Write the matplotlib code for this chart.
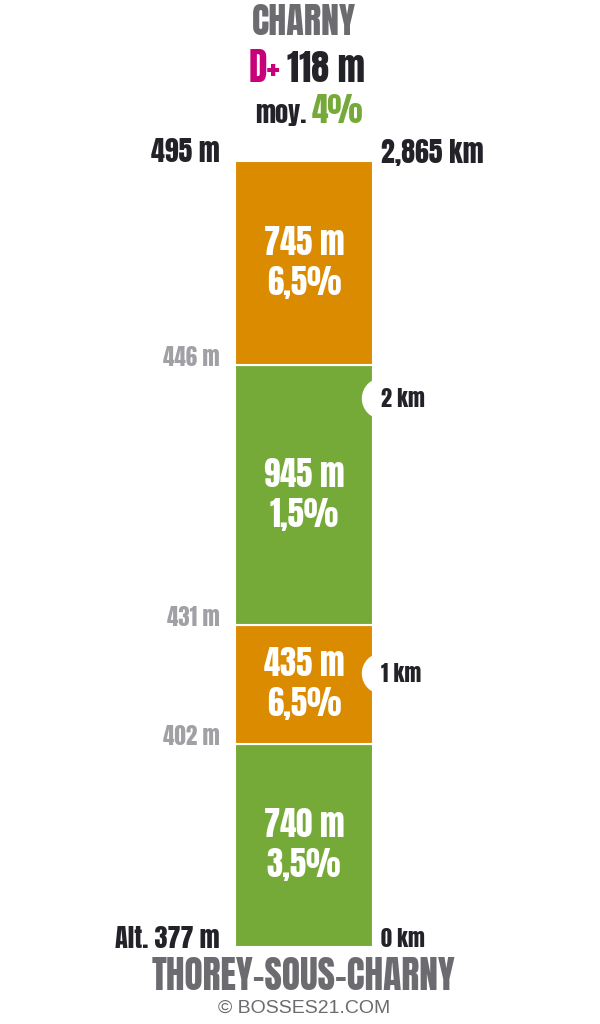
import matplotlib
matplotlib.use("Agg")
import matplotlib.pyplot as plt
import numpy as np

# segments from the bottom (start) to the top (finish)
distances = [740, 435, 945, 745]          # metres
grades = [3.5, 6.5, 1.5, 6.5]             # percent
altitudes = [377, 402, 431, 446, 495]     # m at each boundary
km_marks = [1, 2]
start_name = "THOREY-SOUS-CHARNY"
end_name = "CHARNY"
gain = 118
mean_grade = 4

ORANGE = "#db8b00"
GREEN = "#76aa38"
DARK = "#222228"
GREY = "#6b6b70"
LGREY = "#a0a0a5"
MAGENTA = "#c8007a"

plt.rcParams['font.family'] = ['Anton', 'Oswald', 'DejaVu Sans']

W, H = 600, 1024
fig = plt.figure(figsize=(W / 100, H / 100), dpi=100)


def fx(x):
    return x / W


def fy(y):
    return 1 - y / H


# bar area in pixels: x 235-373, y 161-947
ax = fig.add_axes([fx(235), fy(947), fx(373 - 235), (947 - 161) / H])
total = sum(distances)
bottoms = np.concatenate([[0], np.cumsum(distances)[:-1]])
colors = [ORANGE if g >= 5 else GREEN for g in grades]
ax.bar(0.5, distances, bottom=bottoms, width=1, color=colors,
       edgecolor="white", linewidth=1.5)
ax.set_xlim(0, 1)
ax.set_ylim(0, total)
ax.axis("off")

pt = 72 / 100  # points per pixel

# segment labels
for b, d, g in zip(bottoms, distances, grades):
    mid = b + d / 2
    ax.annotate(f"{d} m", (0.5, mid), xytext=(0, 8.5 * pt), textcoords="offset points",
                ha="center", va="baseline", color="white", fontsize=23.5)
    ax.annotate(f"{g:.1f}%".replace(".", ","), (0.5, mid), xytext=(0, -31.5 * pt),
                textcoords="offset points", ha="center", va="baseline",
                color="white", fontsize=23.5)

# altitude labels on the left
bounds = np.concatenate([[0], np.cumsum(distances)])
for i, (yb, alt) in enumerate(zip(bounds, altitudes)):
    if i == 0:
        txt, col, fs = f"Alt. {alt} m", DARK, 19
    elif i == len(altitudes) - 1:
        txt, col, fs = f"{alt} m", DARK, 20
    else:
        txt, col, fs = f"{alt} m", LGREY, 16.5
    ax.annotate(txt, (0, yb), xycoords=("axes fraction", "data"),
                xytext=(-15 * pt, -1 * pt), textcoords="offset points",
                ha="right", va="baseline", color=col, fontsize=fs, annotation_clip=False)

# km labels on the right
ax.annotate("0 km", (1, 0), xycoords=("axes fraction", "data"),
            xytext=(8 * pt, 0), textcoords="offset points",
            ha="left", va="baseline", color=DARK, fontsize=16, annotation_clip=False)
ax.annotate(f"{total / 1000:.3f} km".replace(".", ","), (1, total),
            xycoords=("axes fraction", "data"),
            xytext=(8 * pt, -2 * pt), textcoords="offset points",
            ha="left", va="baseline", color=DARK, fontsize=20, annotation_clip=False)
for k in km_marks:
    ax.plot([1 + 9 / 138], [k * 1000], "o", ms=40 * pt, color="white",
            mec="white", clip_on=False, zorder=2.5)
    ax.annotate(f"{k} km", (1, k * 1000), xycoords=("axes fraction", "data"),
                xytext=(8 * pt, -9 * pt), textcoords="offset points",
                ha="left", va="baseline", color=DARK, fontsize=16,
                annotation_clip=False, zorder=4)

# header
fig.text(fx(304), fy(35), end_name, ha="center", va="baseline", color=GREY, fontsize=26)
fig.text(fx(280), fy(82), "D+", ha="right", va="baseline", color=MAGENTA, fontsize=27)
fig.text(fx(287), fy(82), f"{gain} m", ha="left", va="baseline", color=DARK, fontsize=26)
fig.text(fx(307), fy(123), "moy.", ha="right", va="baseline", color=DARK, fontsize=19)
fig.text(fx(312), fy(123), f"{mean_grade}%", ha="left", va="baseline", color=GREEN, fontsize=24)

# footer
fig.text(fx(304), fy(990), start_name, ha="center", va="baseline", color=GREY, fontsize=27)
fig.text(fx(304), fy(1013), "© BOSSES21.COM", ha="center", va="baseline", color=GREY,
         fontsize=14, family=["Liberation Sans", "DejaVu Sans"])

fig.savefig("out.png", dpi=100, facecolor="white")
